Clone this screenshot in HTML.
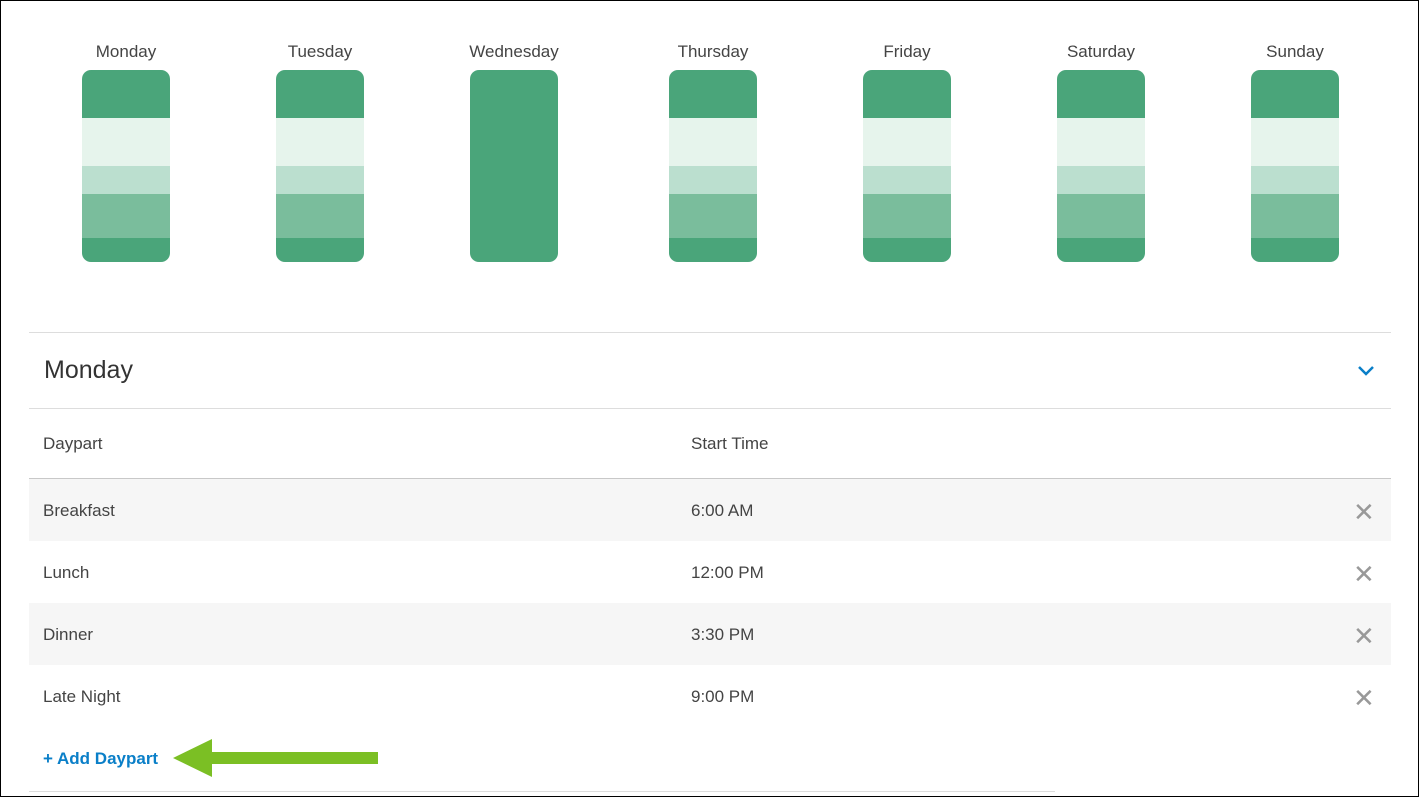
<!DOCTYPE html>
<html><head><style>
body{margin:0;width:1419px;height:797px;position:relative;background:#fff;font-family:"Liberation Sans",sans-serif;overflow:hidden}
.frame{position:absolute;left:0;top:0;width:1417px;height:795px;border:1px solid #000}
.day{position:absolute;top:42px;width:120px;text-align:center;font-size:17px;color:#444}
.bar{position:absolute;top:70px;width:88px;height:192px;border-radius:9px;overflow:hidden;background:#4aa57a}
.bar div{position:absolute;left:0;width:100%}
.hl{position:absolute;left:29px;width:1362px;height:1px;background:#ddd}
.row{position:absolute;left:29px;width:1362px;height:62px}
.t{position:absolute;font-size:17px;color:#444}
.x{position:absolute;left:1353px;font-size:26px;color:#999;line-height:20px}
</style></head><body>
<div class="frame"></div>
<div id="days"></div>
<script>
var names=["Monday","Tuesday","Wednesday","Thursday","Friday","Saturday","Sunday"];
var cx=[126,320,514,713,907,1101,1295];var h="";
for(var i=0;i<7;i++){h+='<div class="day" style="left:'+(cx[i]-60)+'px">'+names[i]+'</div>';
h+='<div class="bar" style="left:'+(cx[i]-44)+'px">';
if(i!=2){h+='<div style="top:48px;height:48px;background:#e6f4ec"></div><div style="top:96px;height:28px;background:#bbdfcf"></div><div style="top:124px;height:44px;background:#7abd9c"></div>';}
h+='</div>';}
document.getElementById('days').innerHTML=h;
</script>
<div class="hl" style="top:332px"></div>
<div class="t" style="left:44px;top:356px;font-size:25px;color:#333">Monday</div>
<svg style="position:absolute;left:1357px;top:364px" width="18" height="12"><path d="M2 3 L9 10 L16 3" stroke="#0a7fc8" stroke-width="2.5" fill="none"/></svg>
<div class="hl" style="top:408px"></div>
<div class="t" style="left:43px;top:434px">Daypart</div>
<div class="t" style="left:691px;top:434px">Start Time</div>
<div class="hl" style="top:478px;background:#c8c8c8"></div>
<div class="row" style="top:479px;background:#f6f6f6"></div>
<div class="row" style="top:603px;background:#f6f6f6"></div>
<div class="t" style="left:43px;top:501px">Breakfast</div><div class="t" style="left:691px;top:501px">6:00 AM</div><div class="x" style="top:502px">✕</div>
<div class="t" style="left:43px;top:563px">Lunch</div><div class="t" style="left:691px;top:563px">12:00 PM</div><div class="x" style="top:564px">✕</div>
<div class="t" style="left:43px;top:625px">Dinner</div><div class="t" style="left:691px;top:625px">3:30 PM</div><div class="x" style="top:626px">✕</div>
<div class="t" style="left:43px;top:687px">Late Night</div><div class="t" style="left:691px;top:687px">9:00 PM</div><div class="x" style="top:688px">✕</div>
<div class="t" style="left:43px;top:749px;color:#0a7fc8;font-weight:bold">+ Add Daypart</div>
<svg style="position:absolute;left:0;top:0" width="1419" height="797"><polygon points="173,758 212,739 212,752 378,752 378,764 212,764 212,777" fill="#7bbf24"/></svg>
<div class="hl" style="top:791px;width:1026px"></div>
</body></html>
